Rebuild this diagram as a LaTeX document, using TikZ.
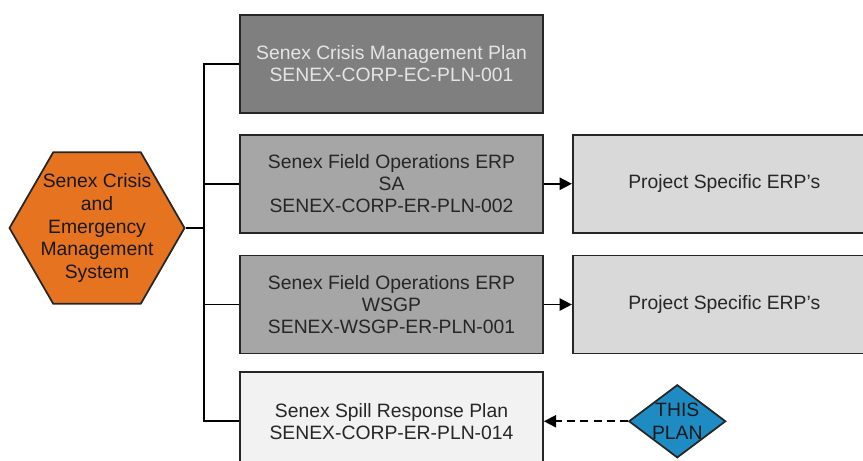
\documentclass[tikz,border=0pt]{standalone}
\usepackage{fontspec}
\setmainfont{Liberation Sans}
\usetikzlibrary{positioning,arrows.meta,shapes.geometric}
\definecolor{senexorange}{HTML}{E5731F}
\definecolor{senexblue}{HTML}{1E8BC3}
\definecolor{plandark}{HTML}{7F7F7F}
\definecolor{planmid}{HTML}{A6A6A6}
\definecolor{planlight}{HTML}{F2F2F2}
\definecolor{sidegray}{HTML}{D9D9D9}
\definecolor{edgegray}{HTML}{262626}

\begin{document}
\begin{tikzpicture}[node distance=0.4cm and 0.56cm, every node/.style={align=center},
  plan/.style={draw=edgegray, line width=1pt, minimum width=6.06cm, minimum height=1.96cm,
      font=\fontsize{11}{12.5}\selectfont, text=black!85},
  link/.style={line width=1pt, black}]
\clip (0,0) rectangle (17.26,-9.2);
\node[plan, fill=plandark, text=white!90!black] (crisis) at (7.83,-1.28)
      {Senex Crisis Management Plan\\SENEX-CORP-EC-PLN-001};
\node[plan, fill=planmid, below=of crisis] (fieldsa)
      {Senex Field Operations ERP\\SA\\SENEX-CORP-ER-PLN-002};
\node[plan, fill=planmid, below=0.42cm of fieldsa] (fieldwsgp)
      {Senex Field Operations ERP\\WSGP\\SENEX-WSGP-ER-PLN-001};
\node[plan, fill=planlight, below=0.34cm of fieldwsgp] (spill)
      {Senex Spill Response Plan\\SENEX-CORP-ER-PLN-014};
\node[plan, fill=sidegray, right=of fieldsa] (projsa) {Project Specific ERP’s};
\node[plan, fill=sidegray, right=of fieldwsgp] (projwsgp) {Project Specific ERP’s};
\node[regular polygon, regular polygon sides=6, minimum size=3.5cm, inner sep=0pt,
      draw=edgegray, line width=1pt, fill=senexorange,
      label={[font=\fontsize{11}{13}\selectfont, text=black!90]center:Senex Crisis\\and\\Emergency\\Management\\System}]
      (cems) at (1.94,-4.56) {};
\node[diamond, draw=edgegray, line width=1pt, fill=senexblue, inner sep=0pt,
      minimum width=1.94cm, minimum height=1.46cm, right=1.68cm of spill,
      label={[font=\fontsize{11}{13}\selectfont, text=black!90]center:THIS\\PLAN}] (thisplan) {};
% bus on the left
\coordinate[left=0.7cm of crisis.west] (bus);
\draw[link] (crisis.west) -- (bus) |- (spill.west);
\draw[link] (fieldsa.west) -- (fieldsa.west -| bus);
\draw[link] (fieldwsgp.west) -- (fieldwsgp.west -| bus);
\draw[link] (cems.east) -- (cems.east -| bus);
\draw[link, -{Triangle[length=7pt,width=7pt]}] (fieldsa) -- (projsa);
\draw[link, -{Triangle[length=7pt,width=7pt]}] (fieldwsgp) -- (projwsgp);
\draw[link, dash pattern=on 4.5pt off 3pt, -{Triangle[length=7pt,width=7pt]}] (thisplan) -- (spill);
\end{tikzpicture}
\end{document}
